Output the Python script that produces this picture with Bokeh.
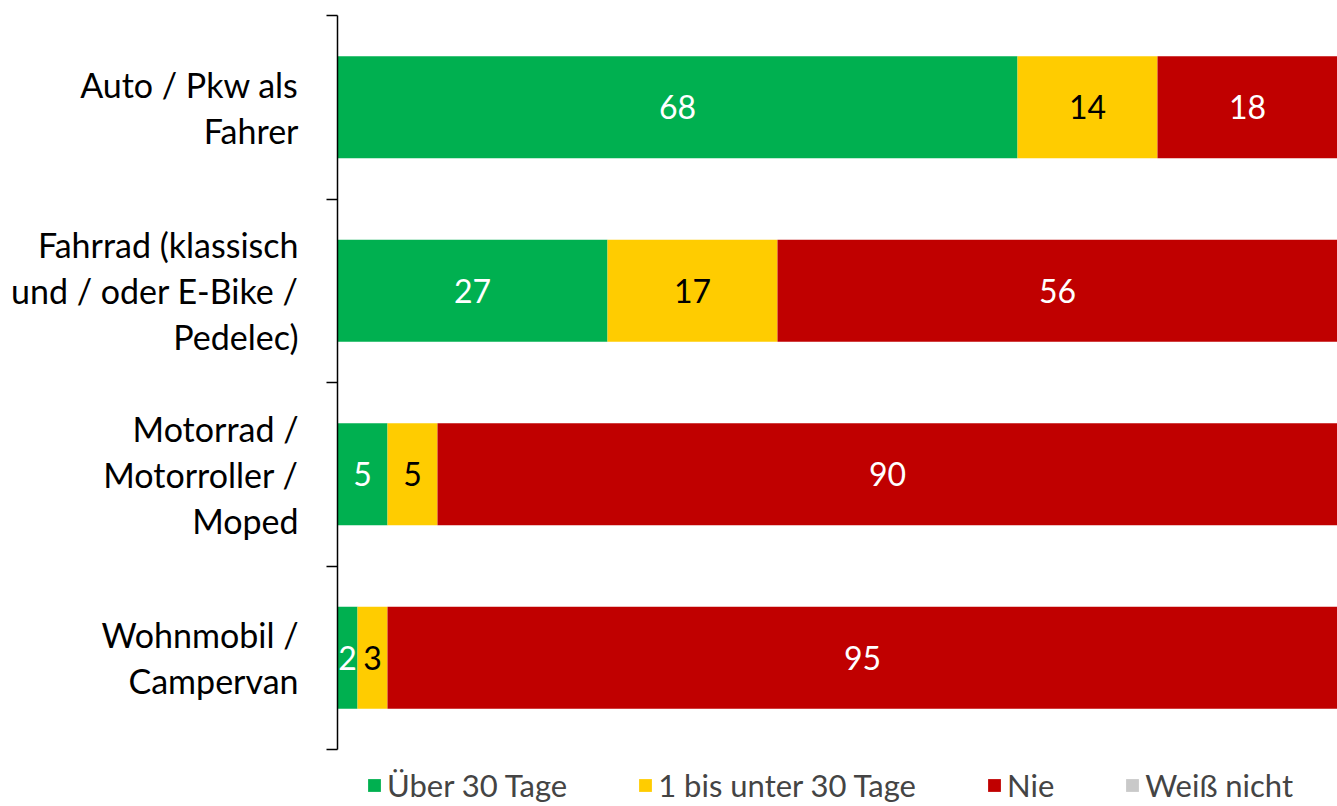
from bokeh.plotting import figure
from bokeh.models import ColumnDataSource, FixedTicker, Legend, LegendItem, Range1d
from bokeh.core.properties import value
from bokeh.embed import file_html
from bokeh.resources import INLINE

categories = [
    "Auto / Pkw als\nFahrer",
    "Fahrrad (klassisch\nund / oder E-Bike /\nPedelec)",
    "Motorrad /\nMotorroller /\nMoped",
    "Wohnmobil /\nCampervan",
]
series = ["Über 30 Tage", "1 bis unter 30 Tage", "Nie", "Weiß nicht"]
ueber_30 = [68, 27, 5, 2]
bis_30 = [14, 17, 5, 3]
nie = [18, 56, 90, 95]
weiss_nicht = [0, 0, 0, 0]
colors = ["#00B050", "#FFCC00", "#C00000", "#C9C9C9"]
label_colors = ["white", "black", "white", "black"]

FONT = "Lato"
n = len(categories)
ypos = [n - 0.5 - i for i in range(n)]

# layout in pixels
W, H = 1337, 806
top, left = 15, 337
band_px = 183.5
frame_h = H - top
y_start = n - frame_h / band_px  # extra room below the axis for the legend

src = ColumnDataSource(dict(y=ypos, s0=ueber_30, s1=bis_30, s2=nie, s3=weiss_nicht))

p = figure(width=W, height=H, output_backend="svg", toolbar_location=None,
           x_range=Range1d(0, 100), y_range=Range1d(y_start, n),
           min_border_left=left, min_border_right=0, min_border_top=top, min_border_bottom=0,
           frame_width=W - left, frame_height=frame_h)
p.outline_line_color = None
p.xgrid.visible = False
p.ygrid.visible = False
p.xaxis.visible = False

renderers = p.hbar_stack(["s0", "s1", "s2", "s3"], y="y", height=0.555, color=colors,
                         line_color=None, source=src)

# y axis: labels at category centres, tick marks between categories
yax = p.yaxis[0]
yax.ticker = FixedTicker(ticks=ypos, minor_ticks=list(range(n + 1)))
yax.major_label_overrides = {y: c for y, c in zip(ypos, categories)}
yax.bounds = (0, n)
yax.major_tick_line_color = None
yax.major_tick_in = 0
yax.major_tick_out = 0
yax.minor_tick_in = 0
yax.minor_tick_out = 11
yax.minor_tick_line_width = 1.5
yax.minor_tick_line_color = "black"
yax.axis_line_width = 1.5
yax.axis_line_color = "black"
yax.major_label_standoff = 28
yax.major_label_text_font = FONT
yax.major_label_text_font_size = "34px"
yax.major_label_text_color = "black"
yax.major_label_text_line_height = 1.12
yax.major_label_text_align = "right"

# data labels
lx, ly, lt, lc = [], [], [], []
all_vals = [ueber_30, bis_30, nie, weiss_nicht]
for i in range(n):
    start = 0
    for k, vals in enumerate(all_vals):
        v = vals[i]
        if v > 0:
            lx.append(start + v / 2)
            ly.append(ypos[i])
            lt.append(str(v))
            lc.append(label_colors[k])
        start += v
p.text(x=lx, y=ly, text=lt, text_color=lc, text_align="center", text_baseline="middle",
       text_font=value(FONT), text_font_size="32px")

legend = Legend(items=[LegendItem(label=s, renderers=[r]) for s, r in zip(series, renderers)],
                orientation="horizontal", location=(29, 2),
                glyph_width=16, glyph_height=16, label_standoff=5, spacing=70,
                padding=0, margin=0, border_line_color=None, background_fill_alpha=0,
                label_text_font=FONT, label_text_font_size="31px")
p.add_layout(legend, "center")

open("out.html", "w").write(file_html(p, INLINE))
